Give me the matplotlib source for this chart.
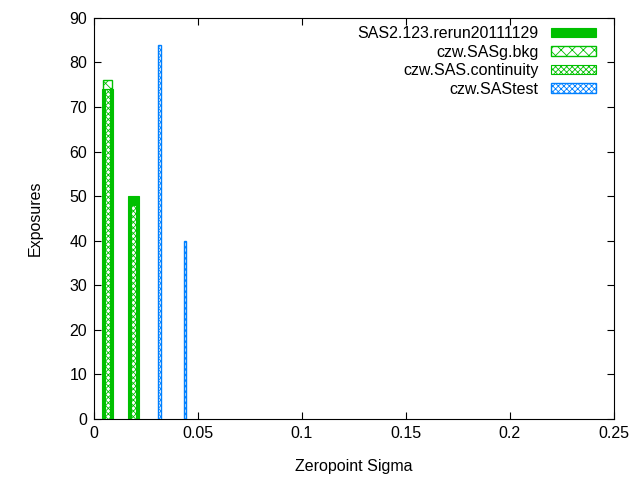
import numpy as np
import matplotlib.pyplot as plt

plt.rcParams['font.family'] = ['Liberation Sans', 'DejaVu Sans']
plt.rcParams['hatch.linewidth'] = 0.6

# bin centres (zeropoint sigma) and counts for each run
sas_x = [0.0065, 0.019]
sas_y = [74, 50]
bkg_x = [0.0065]
bkg_y = [76]
cont_x = [0.0065, 0.019]
cont_y = [74, 48]
test_x = [0.0315, 0.0439]
test_y = [84, 40]

green = '#00c000'
blue = '#0080ff'

fig = plt.figure(figsize=(6.4, 4.8), dpi=100)
ax = fig.add_axes([0.147, 0.127, 0.812, 0.836])

ax.bar(sas_x, sas_y, width=0.0052, color=green, edgecolor=green, lw=0.8,
       label='SAS2.123.rerun20111129', zorder=2)
ax.bar(bkg_x, bkg_y, width=0.0042, facecolor='white', edgecolor=green, lw=1.0,
       hatch='xxx', label='czw.SASg.bkg', zorder=1)
ax.bar(cont_x, cont_y, width=0.0026, facecolor='white', edgecolor=green, lw=0.8,
       hatch='xxxxxx', label='czw.SAS.continuity', zorder=3)
ax.bar(test_x, test_y, width=0.0011, facecolor='white', edgecolor=blue, lw=1.0,
       hatch='xxxxxx', label='czw.SAStest', zorder=3)

ax.set_xlim(0, 0.25)
ax.set_ylim(0, 90)
ax.set_xticks(np.arange(0, 0.26, 0.05))
ax.set_xticklabels(['0', '0.05', '0.1', '0.15', '0.2', '0.25'])
ax.set_yticks(np.arange(0, 91, 10))
ax.tick_params(direction='in', top=True, right=True, labelsize=11.5, length=5, pad=5)
ax.set_xlabel('Zeropoint Sigma', fontsize=11.5, labelpad=13)
ax.set_ylabel('Exposures', fontsize=11.5, labelpad=19)

leg = ax.legend(loc='upper right', bbox_to_anchor=(1.0, 1.023), frameon=False,
                markerfirst=False, fontsize=11.5,
                handlelength=2.8, handleheight=0.55, labelspacing=0.22,
                borderaxespad=0.7, handletextpad=0.8)

plt.savefig('out.png')
